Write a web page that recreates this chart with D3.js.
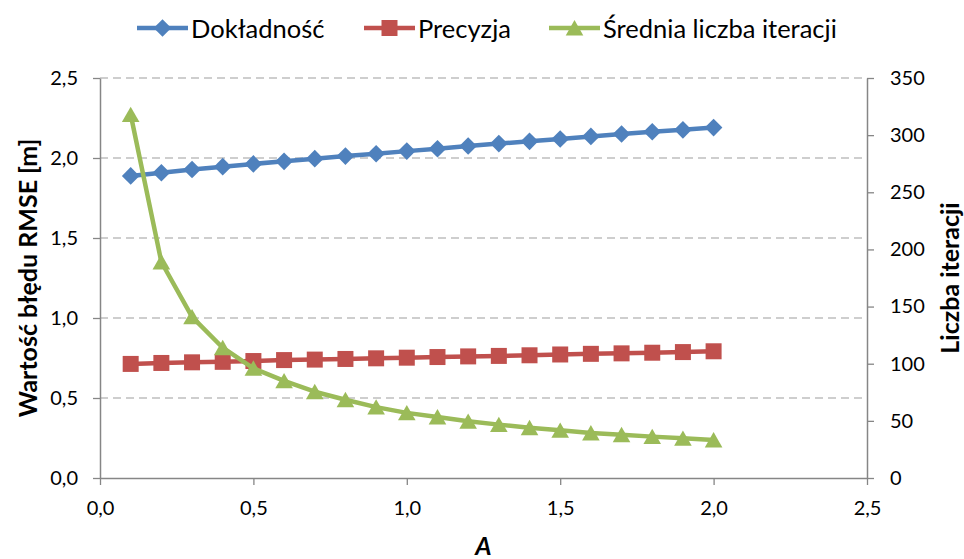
<!DOCTYPE html>
<html>
<head>
<meta charset="utf-8">
<script src="https://cdn.jsdelivr.net/npm/d3@7"></script>
<style>
  body { margin: 0; background: #fff; }
  text { font-family: Lato, "Open Sans", sans-serif; }
</style>
</head>
<body>
<script>

// values
var aValues = [0.1, 0.2, 0.3, 0.4, 0.5, 0.6, 0.7, 0.8, 0.9, 1.0,
               1.1, 1.2, 1.3, 1.4, 1.5, 1.6, 1.7, 1.8, 1.9, 2.0];
var dokladnosc = [1.888, 1.908, 1.928, 1.946, 1.963, 1.979, 1.996, 2.012, 2.027, 2.043,
                  2.058, 2.075, 2.090, 2.104, 2.119, 2.135, 2.150, 2.164, 2.176, 2.190];
var precyzja = [0.713, 0.719, 0.723, 0.726, 0.731, 0.737, 0.740, 0.744, 0.748, 0.752,
                0.756, 0.760, 0.763, 0.767, 0.772, 0.776, 0.779, 0.783, 0.787, 0.792];
var iteracje = [318, 189, 141, 114, 96, 85, 75.5, 68.5, 62, 57,
                53.4, 49.6, 46.7, 44, 41.7, 39.4, 37.9, 36.2, 34.7, 33.3];

var xTicks = [0, 0.5, 1.0, 1.5, 2.0, 2.5];
var leftTicks = [0, 0.5, 1.0, 1.5, 2.0, 2.5];
var rightTicks = [0, 50, 100, 150, 200, 250, 300, 350];

var seriesNames = ["Dokładność", "Precyzja", "Średnia liczba iteracji"];
var seriesColors = ["#4f81bd", "#c0504d", "#9bbb59"];

// excel-like markers (size = half width)
var diamond = {draw: function(ctx, r) {
    ctx.moveTo(0, -r); ctx.lineTo(r, 0); ctx.lineTo(0, r); ctx.lineTo(-r, 0); ctx.closePath();
}};
var square = {draw: function(ctx, r) {
    ctx.rect(-r, -r, 2 * r, 2 * r);
}};
var triangle = {draw: function(ctx, r) {
    ctx.moveTo(0, -r * 0.9); ctx.lineTo(r, r * 0.85); ctx.lineTo(-r, r * 0.85); ctx.closePath();
}};
var seriesShapes = [diamond, square, triangle];
var markerSizes = [8.8, 8, 8.8];

const margin = {top: 78, right: 97, bottom: 81, left: 100};
const width = 964 - margin.left - margin.right;
const height = 559 - margin.top - margin.bottom;

var svg = d3.select("body").append("svg")
    .attr("width", 964)
    .attr("height", 559);

var g = svg.append("g")
    .attr("transform", "translate(" + margin.left + "," + margin.top + ")");

var xScale = d3.scaleLinear().domain([0, 2.5]).range([0, width]);
var yLeft = d3.scaleLinear().domain([0, 2.5]).range([height, 0]);
var yRight = d3.scaleLinear().domain([0, 350]).range([height, 0]);

var comma = function(d) { return d3.format(".1f")(d).replace(".", ","); };

// dashed gridlines
g.selectAll(".grid")
    .data(leftTicks.slice(1))
    .enter()
    .append("line")
    .attr("x1", 0)
    .attr("x2", width)
    .attr("y1", function(d) { return yLeft(d); })
    .attr("y2", function(d) { return yLeft(d); })
    .attr("stroke", "#bfbfbf")
    .attr("stroke-width", 1.3)
    .attr("stroke-dasharray", "8,5");

function styleAxis(sel) {
    sel.select(".domain").attr("stroke", "#868686").attr("stroke-width", 1.5);
    sel.selectAll(".tick line").attr("stroke", "#868686").attr("stroke-width", 1.3);
    sel.selectAll(".tick text")
        .attr("fill", "#000")
        .style("font-size", "20px")
        .style("font-family", "Lato, sans-serif");
}

var xAxis = g.append("g")
    .attr("transform", "translate(0," + height + ")")
    .call(d3.axisBottom(xScale).tickValues(xTicks).tickFormat(comma)
        .tickSize(7).tickSizeOuter(0).tickPadding(16))
    .call(styleAxis);

var leftAxis = g.append("g")
    .call(d3.axisLeft(yLeft).tickValues(leftTicks).tickFormat(comma)
        .tickSize(7).tickSizeOuter(0).tickPadding(15))
    .call(styleAxis);

var rightAxis = g.append("g")
    .attr("transform", "translate(" + width + ",0)")
    .call(d3.axisRight(yRight).tickValues(rightTicks)
        .tickSize(7).tickSizeOuter(0).tickPadding(16))
    .call(styleAxis);

// axis titles
svg.append("text")
    .attr("transform", "translate(37," + (margin.top + height / 2) + ") rotate(-90)")
    .attr("text-anchor", "middle")
    .style("font-size", "25px")
    .style("font-weight", "bold")
    .text("Wartość błędu RMSE [m]");

svg.append("text")
    .attr("transform", "translate(959," + (margin.top + height / 2) + ") rotate(-90)")
    .attr("text-anchor", "middle")
    .style("font-size", "25px")
    .style("font-weight", "bold")
    .text("Liczba iteracji");

svg.append("text")
    .attr("x", margin.left + width / 2)
    .attr("y", 555)
    .attr("text-anchor", "middle")
    .style("font-size", "25px")
    .style("font-weight", "bold")
    .style("font-style", "italic")
    .text("A");

// series
var allSeries = [
    {values: dokladnosc, y: yLeft},
    {values: precyzja, y: yLeft},
    {values: iteracje, y: yRight}
];

allSeries.forEach(function(s, i) {
    var pts = aValues.map(function(a, j) { return [a, s.values[j]]; });

    var line = d3.line()
        .x(function(d) { return xScale(d[0]); })
        .y(function(d) { return s.y(d[1]); });

    g.append("path")
        .datum(pts)
        .attr("d", line)
        .attr("fill", "none")
        .attr("stroke", seriesColors[i])
        .attr("stroke-width", 4.5)
        .attr("stroke-linejoin", "round");

    g.selectAll(".marker" + i)
        .data(pts)
        .enter()
        .append("path")
        .attr("class", "marker" + i)
        .attr("d", d3.symbol().type(seriesShapes[i]).size(markerSizes[i]))
        .attr("transform", function(d) {
            return "translate(" + xScale(d[0]) + "," + s.y(d[1]) + ")";
        })
        .attr("fill", seriesColors[i]);
});

// legend
var legendX = [137, 364, 549];
var legend = svg.selectAll(".legend")
    .data(seriesNames)
    .enter()
    .append("g")
    .attr("class", "legend")
    .attr("transform", function(d, i) {
        return "translate(" + legendX[i] + ",28)";
    });

legend.append("line")
    .attr("x1", 0)
    .attr("x2", 51)
    .attr("stroke", function(d, i) { return seriesColors[i]; })
    .attr("stroke-width", 4.5);

legend.append("path")
    .attr("d", function(d, i) {
        return d3.symbol().type(seriesShapes[i]).size(markerSizes[i])();
    })
    .attr("transform", "translate(25.5,0)")
    .attr("fill", function(d, i) { return seriesColors[i]; });

legend.append("text")
    .attr("x", 54)
    .attr("y", 10)
    .style("font-size", "25.5px")
    .text(function(d) { return d; });

</script>
</body>
</html>
